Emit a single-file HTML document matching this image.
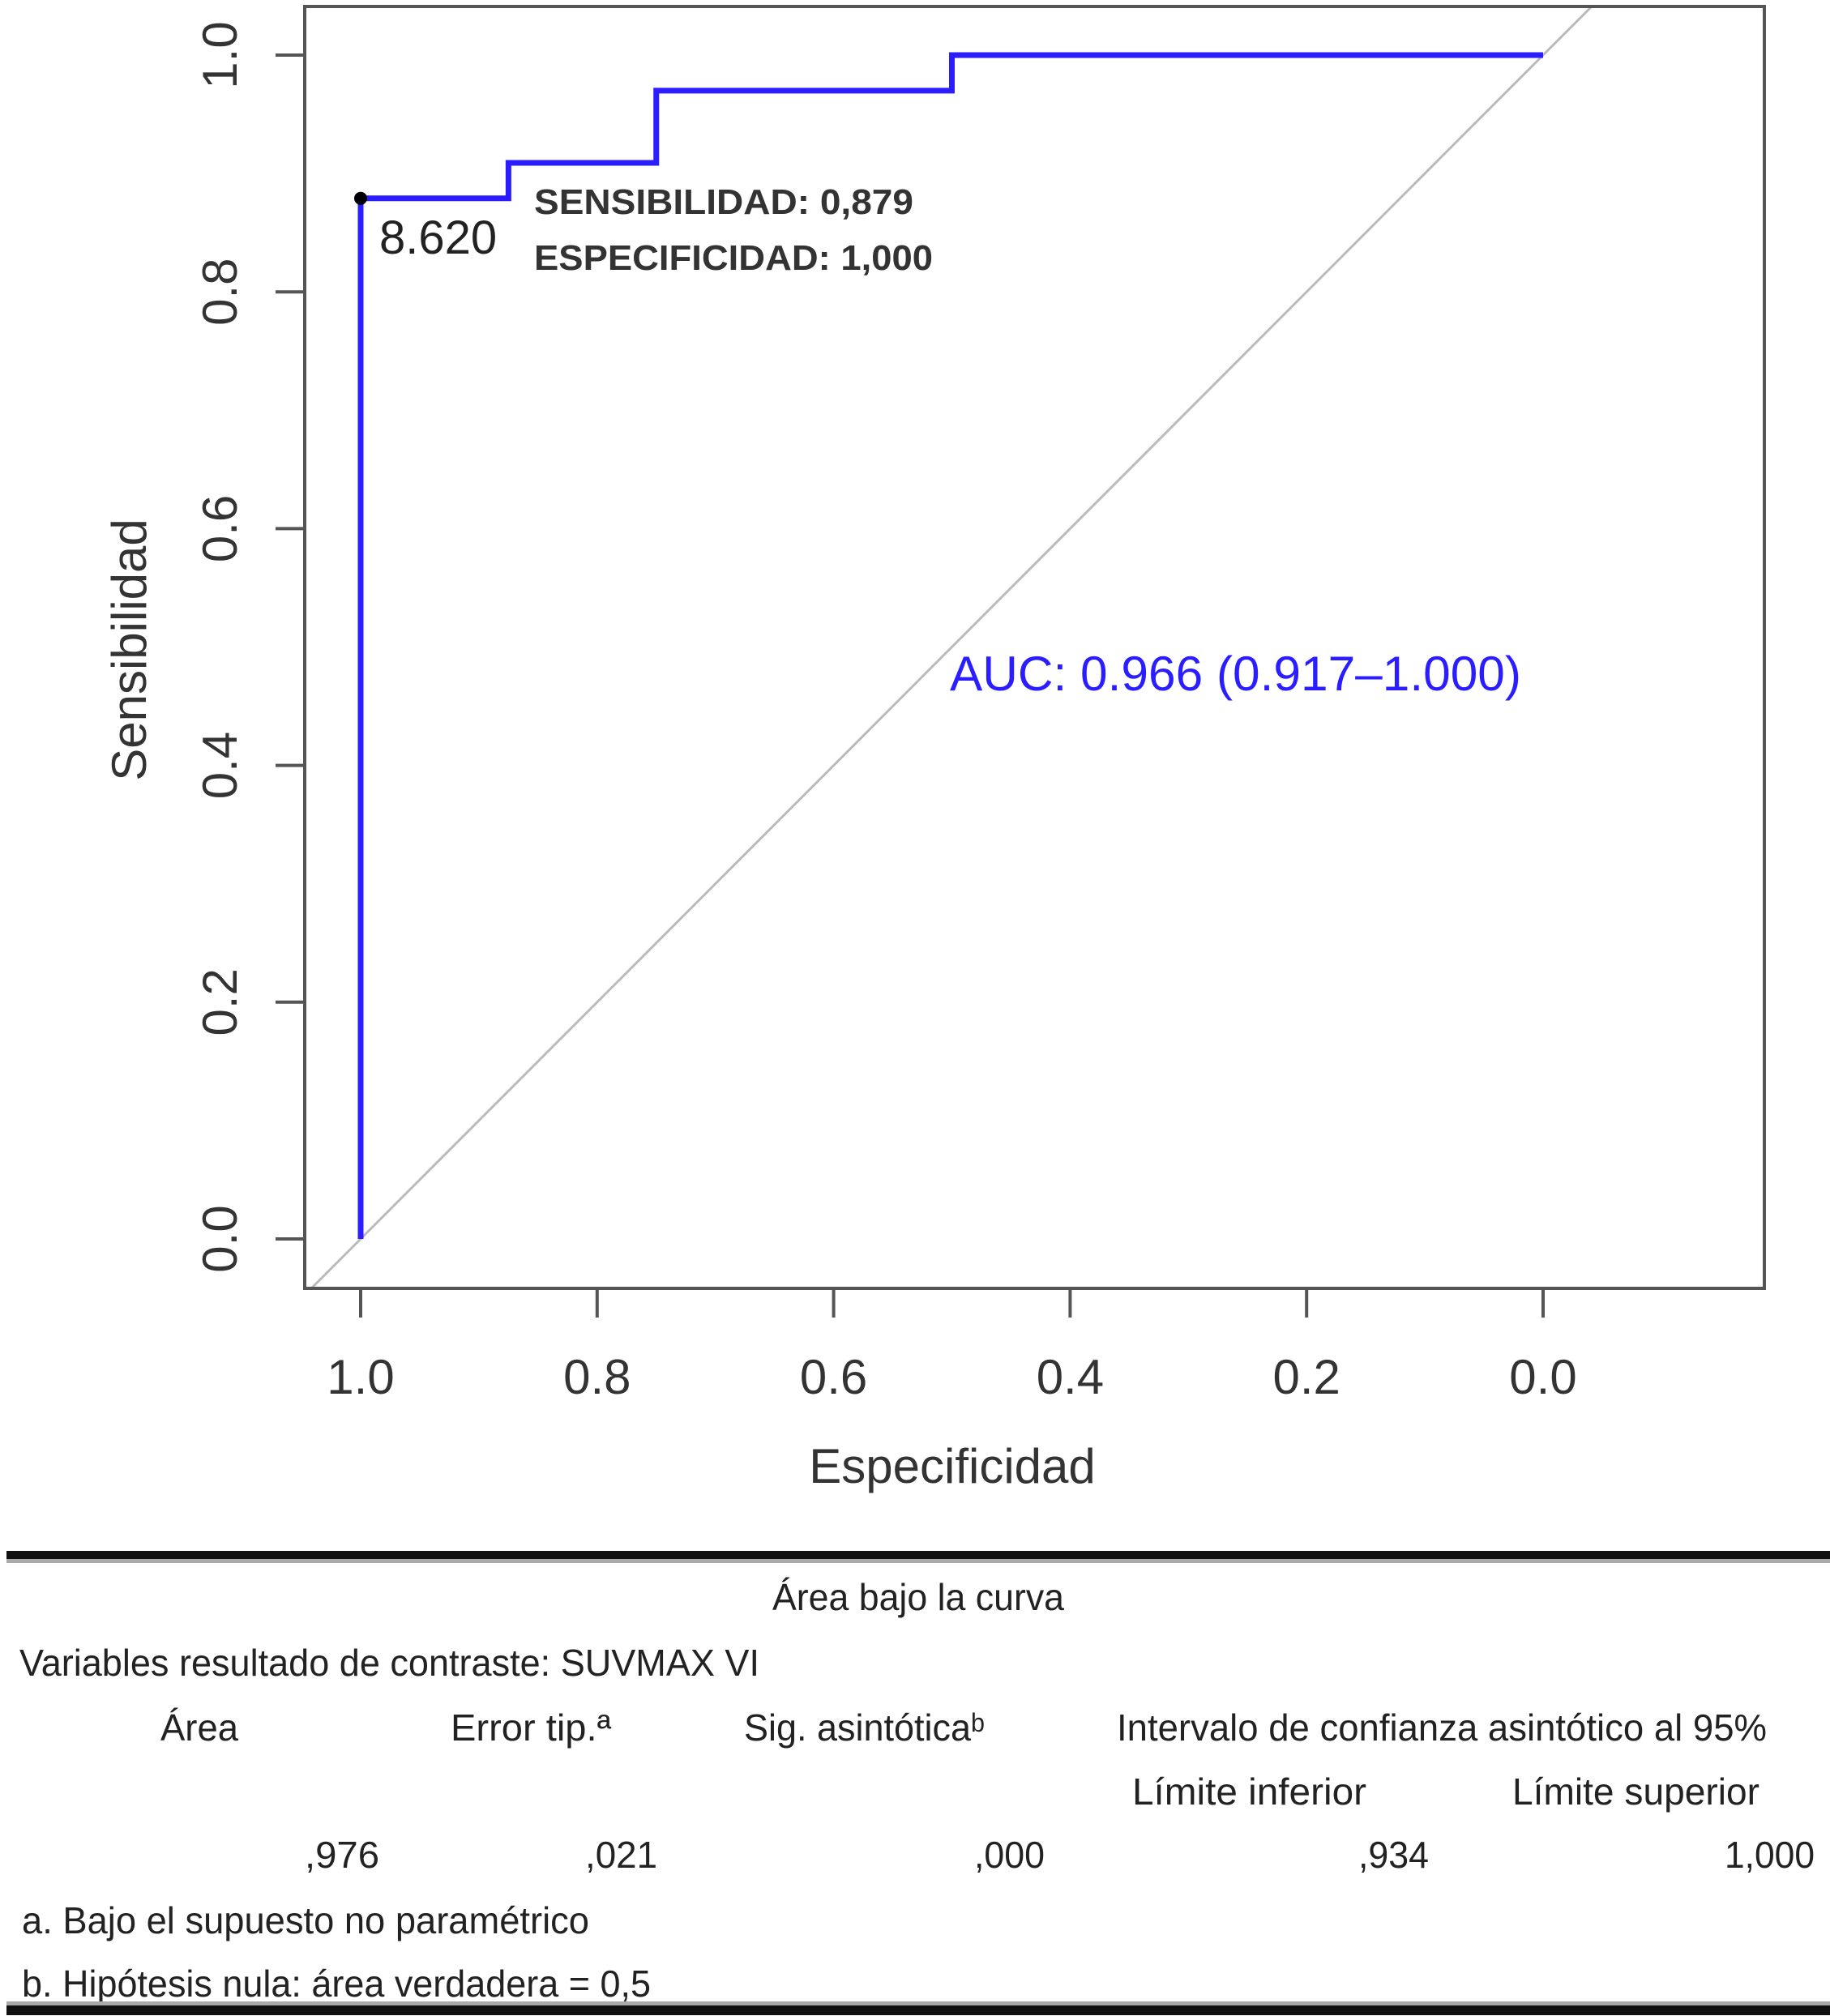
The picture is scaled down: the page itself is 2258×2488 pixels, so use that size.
<!DOCTYPE html>
<html><head><meta charset="utf-8"><style>
html,body{margin:0;padding:0;background:#fff;}
svg{display:block;}
text{font-family:"Liberation Sans",sans-serif;}
.tb{font-size:46px;fill:#222;}
</style></head><body>
<svg id="chart" width="2258" height="2488" viewBox="0 0 2258 2488" xmlns="http://www.w3.org/2000/svg">
  <g id="plot"></g>
  <g>
    <rect x="8" y="1914" width="2250" height="10" fill="#111"/>
    <rect x="8" y="1924" width="2250" height="5" fill="#aaa"/>
    <text class="tb" x="953" y="1987" textLength="360" lengthAdjust="spacingAndGlyphs">Área bajo la curva</text>
    <text class="tb" x="24" y="2068" textLength="913" lengthAdjust="spacingAndGlyphs">Variables resultado de contraste: SUVMAX VI</text>
    <text class="tb" x="198" y="2148" textLength="96" lengthAdjust="spacingAndGlyphs">Área</text>
    <text class="tb" x="556" y="2148" textLength="198" lengthAdjust="spacingAndGlyphs">Error tip.ª</text>
    <text class="tb" x="918" y="2148" textLength="297" lengthAdjust="spacingAndGlyphs">Sig. asintóticaᵇ</text>
    <text class="tb" x="1378" y="2148" textLength="802" lengthAdjust="spacingAndGlyphs">Intervalo de confianza asintótico al 95%</text>
    <text class="tb" x="1397" y="2227" textLength="289" lengthAdjust="spacingAndGlyphs">Límite inferior</text>
    <text class="tb" x="1866" y="2227" textLength="305" lengthAdjust="spacingAndGlyphs">Límite superior</text>
    <text class="tb" x="376" y="2305" textLength="92" lengthAdjust="spacingAndGlyphs">,976</text>
    <text class="tb" x="722" y="2305" textLength="89" lengthAdjust="spacingAndGlyphs">,021</text>
    <text class="tb" x="1202" y="2305" textLength="87" lengthAdjust="spacingAndGlyphs">,000</text>
    <text class="tb" x="1676" y="2305" textLength="87" lengthAdjust="spacingAndGlyphs">,934</text>
    <text class="tb" x="2128" y="2305" textLength="111" lengthAdjust="spacingAndGlyphs">1,000</text>
    <text class="tb" x="27" y="2386" textLength="700" lengthAdjust="spacingAndGlyphs">a. Bajo el supuesto no paramétrico</text>
    <text class="tb" x="27" y="2464" textLength="776" lengthAdjust="spacingAndGlyphs">b. Hipótesis nula: área verdadera = 0,5</text>
    <rect x="8" y="2470" width="2250" height="5" fill="#aaa"/>
    <rect x="8" y="2475" width="2250" height="12" fill="#111"/>
  </g>
</svg>
<script>
const specificity = [1.0, 1.0, 0.875, 0.875, 0.75, 0.75, 0.5, 0.5, 0.0];
const sensitivity = [0.0, 0.879, 0.879, 0.909, 0.909, 0.97, 0.97, 1.0, 1.0];
const xTicks = [1.0, 0.8, 0.6, 0.4, 0.2, 0.0];
const yTicks = [0.0, 0.2, 0.4, 0.6, 0.8, 1.0];
const xTickLabels = ["1.0", "0.8", "0.6", "0.4", "0.2", "0.0"];
const yTickLabels = ["0.0", "0.2", "0.4", "0.6", "0.8", "1.0"];
const bestSpec = 1.0, bestSens = 0.879;

const NS = "http://www.w3.org/2000/svg";
const X0 = 445, X1 = 1904, Y0 = 1529, Y1 = 68;
const box = {l: 376, t: 8, r: 2177, b: 1590};
function sx(s){ return X0 + (1 - s) * (X1 - X0); }
function sy(v){ return Y0 - v * (Y0 - Y1); }
const plot = document.getElementById('plot');
function mk(tag, attrs, txt){
  const e = document.createElementNS(NS, tag);
  for (const k in attrs) e.setAttribute(k, attrs[k]);
  if (txt !== undefined) e.textContent = txt;
  plot.appendChild(e);
  return e;
}

const cp = mk('clipPath', {id: 'boxclip'});
const cr = document.createElementNS(NS, 'rect');
cr.setAttribute('x', box.l); cr.setAttribute('y', box.t);
cr.setAttribute('width', box.r - box.l); cr.setAttribute('height', box.b - box.t);
cp.appendChild(cr);
const diag = mk('line', {x1: sx(1.1), y1: sy(-0.1), x2: sx(-0.1), y2: sy(1.1), stroke: '#bbbbbb', 'stroke-width': 3, 'clip-path': 'url(#boxclip)'});



let d = '';
for (let i = 0; i < specificity.length; i++) d += (i ? 'L' : 'M') + sx(specificity[i]) + ' ' + sy(sensitivity[i]) + ' ';
const roc = mk('path', {d: d, fill: 'none', stroke: '#2a1dff', 'stroke-width': 7});



const frame = mk('rect', {x: box.l, y: box.t, width: box.r - box.l, height: box.b - box.t, fill: 'none', stroke: '#555', 'stroke-width': 4});



xTicks.forEach((v, i) => {
  const t = mk('line', {x1: sx(v), y1: box.b, x2: sx(v), y2: box.b + 36, stroke: '#555', 'stroke-width': 4});
  
  
  const l = mk('text', {x: sx(v), y: 1720, 'text-anchor': 'middle', 'font-size': 60, fill: '#333'}, xTickLabels[i]);
  
  
});
yTicks.forEach((v, i) => {
  const t = mk('line', {x1: box.l - 36, y1: sy(v), x2: box.l, y2: sy(v), stroke: '#555', 'stroke-width': 4});
  
  
  const l = mk('text', {x: 0, y: 0, 'text-anchor': 'middle', 'font-size': 60, fill: '#333', transform: 'translate(292,' + sy(v) + ') rotate(-90)'}, yTickLabels[i]);
  
  
});
const xt = mk('text', {x: 1175, y: 1830, 'text-anchor': 'middle', 'font-size': 60, fill: '#333'}, 'Especificidad');


const yt = mk('text', {x: 0, y: 0, 'text-anchor': 'middle', 'font-size': 60, fill: '#333', transform: 'translate(180,802) rotate(-90)'}, 'Sensibilidad');



const pt = mk('circle', {cx: sx(bestSpec), cy: sy(bestSens), r: 8, fill: '#000'});


const thr = mk('text', {x: sx(bestSpec) + 23, y: sy(bestSens) + 68, 'font-size': 58, fill: '#222'}, '8.620');


const s1 = mk('text', {x: 659, y: 264, 'font-size': 44, 'font-weight': 'bold', fill: '#333', textLength: 468, lengthAdjust: 'spacingAndGlyphs'}, 'SENSIBILIDAD: 0,879');


const s2 = mk('text', {x: 659, y: 333, 'font-size': 44, 'font-weight': 'bold', fill: '#333', textLength: 492, lengthAdjust: 'spacingAndGlyphs'}, 'ESPECIFICIDAD: 1,000');


const auc = mk('text', {x: 1172, y: 852, 'font-size': 60, fill: '#2a1dff', textLength: 705, lengthAdjust: 'spacingAndGlyphs'}, 'AUC: 0.966 (0.917–1.000)');


</script>
</body></html>
